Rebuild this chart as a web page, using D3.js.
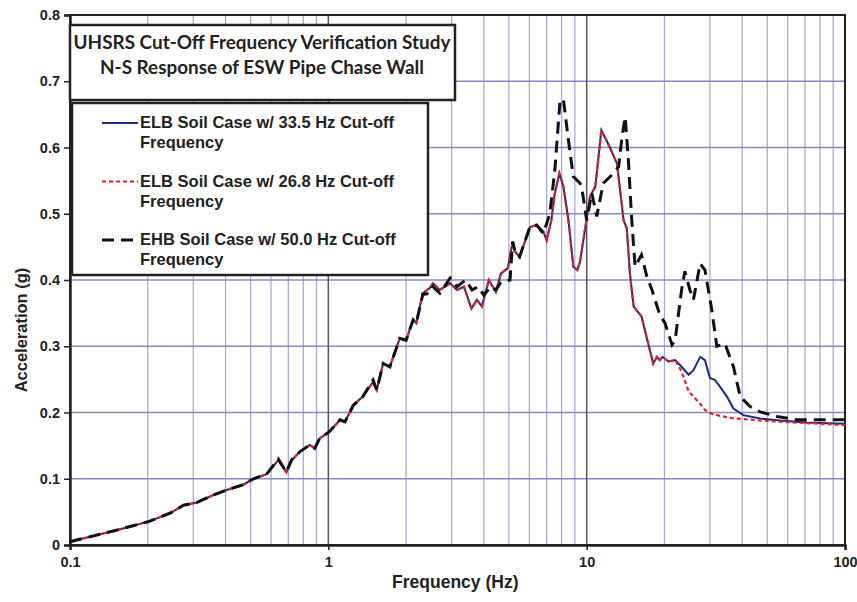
<!DOCTYPE html>
<html>
<head>
<meta charset="utf-8">
<script src="https://cdn.jsdelivr.net/npm/d3@7"></script>
<style>
  body { margin: 0; background: #fff; }
  text { font-family: "Liberation Sans", Arial, sans-serif; }
</style>
</head>
<body>
<div id="chart"></div>
<script>
// ELB soil cases (33.5 Hz and 26.8 Hz cut-off) share one frequency grid
var elbFreq = [0.1, 0.12, 0.15, 0.2, 0.244, 0.275, 0.309, 0.359, 0.404, 0.469, 0.513, 0.577,
  0.64, 0.688, 0.72, 0.777, 0.847, 0.886, 0.926, 1.01, 1.11, 1.16, 1.25, 1.36, 1.49, 1.54,
  1.63, 1.73, 1.89, 2.0, 2.13, 2.19, 2.32, 2.47, 2.54, 2.7, 2.96, 3.15, 3.35, 3.58, 3.76,
  3.93, 4.18, 4.45, 4.66, 4.95, 5.17, 5.28, 5.5, 6.03, 6.4, 6.8, 7.0, 7.3, 7.53, 7.84, 8.13,
  8.5, 8.88, 9.2, 9.43, 9.71, 10.3, 10.8, 11.4, 12.1, 13.1, 13.9, 14.3, 14.7, 15.2, 16.3,
  17.3, 18.1, 18.7, 19.2, 19.7, 20.7, 22.0, 23.3, 24.8, 25.9, 27.5, 28.7, 30.0, 31.4, 32.8,
  34.9, 37.0, 40.4, 46.9, 56, 71, 100];

var elb335 = [0.005, 0.0126, 0.022, 0.035, 0.048, 0.06, 0.064, 0.0755, 0.083, 0.091, 0.1, 0.107,
  0.128, 0.11, 0.128, 0.141, 0.151, 0.146, 0.161, 0.171, 0.189, 0.186, 0.211, 0.224, 0.246, 0.234,
  0.274, 0.269, 0.312, 0.309, 0.34, 0.335, 0.38, 0.388, 0.395, 0.385, 0.395, 0.385, 0.39, 0.357, 0.37,
  0.36, 0.4, 0.382, 0.41, 0.418, 0.458, 0.443, 0.435, 0.48, 0.483, 0.473, 0.46, 0.49, 0.531, 0.561, 0.541,
  0.49, 0.42, 0.415, 0.428, 0.46, 0.526, 0.541, 0.626, 0.606, 0.576, 0.49, 0.478, 0.41, 0.36, 0.345,
  0.304, 0.274, 0.284, 0.279, 0.284, 0.277, 0.279, 0.269, 0.257, 0.264, 0.284, 0.279, 0.252, 0.249, 0.239,
  0.224, 0.206, 0.196, 0.191, 0.188, 0.185, 0.183];

var elb268 = [0.005, 0.0126, 0.022, 0.035, 0.048, 0.06, 0.064, 0.0755, 0.083, 0.091, 0.1, 0.107,
  0.128, 0.11, 0.128, 0.141, 0.151, 0.146, 0.161, 0.171, 0.189, 0.186, 0.211, 0.224, 0.246, 0.234,
  0.274, 0.269, 0.312, 0.309, 0.34, 0.335, 0.38, 0.388, 0.395, 0.385, 0.395, 0.385, 0.39, 0.357, 0.37,
  0.36, 0.4, 0.382, 0.41, 0.418, 0.458, 0.443, 0.435, 0.48, 0.483, 0.473, 0.46, 0.49, 0.531, 0.561, 0.541,
  0.49, 0.42, 0.415, 0.428, 0.46, 0.526, 0.541, 0.626, 0.606, 0.576, 0.49, 0.478, 0.41, 0.36, 0.345,
  0.304, 0.274, 0.284, 0.279, 0.284, 0.277, 0.279, 0.262, 0.232, 0.224, 0.213, 0.204, 0.199, 0.197, 0.195,
  0.193, 0.191, 0.19, 0.188, 0.186, 0.184, 0.181];

// EHB soil case (50.0 Hz cut-off)
var ehbFreq = [0.1, 0.12, 0.15, 0.2, 0.244, 0.275, 0.309, 0.359, 0.404, 0.469, 0.513, 0.577,
  0.64, 0.688, 0.72, 0.777, 0.847, 0.886, 0.926, 1.01, 1.11, 1.16, 1.25, 1.36, 1.49, 1.54,
  1.63, 1.73, 1.89, 2.0, 2.13, 2.19, 2.32, 2.47, 2.54, 2.7, 2.87, 2.96, 3.15, 3.4, 3.6, 3.8,
  4.0, 4.25, 4.45, 4.66, 5.05, 5.17, 5.28, 5.5, 6.03, 6.4, 6.8, 7.2, 7.53, 7.89, 8.13, 8.5,
  8.88, 9.43, 9.6, 10.0, 10.47, 10.94, 11.6, 12.7, 13.3, 13.7, 14.1, 14.5, 14.95, 15.4, 16.3,
  17.1, 17.9, 19.2, 20.1, 21.4, 22.0, 23.3, 24.0, 25.1, 25.9, 27.5, 28.7, 30.5, 31.9, 34.3,
  37.0, 39.3, 42.9, 46.9, 54.5, 65.1, 100];

var ehb500 = [0.005, 0.0126, 0.022, 0.035, 0.048, 0.06, 0.064, 0.0755, 0.083, 0.091, 0.1, 0.107,
  0.13, 0.11, 0.128, 0.141, 0.151, 0.146, 0.161, 0.171, 0.189, 0.186, 0.211, 0.224, 0.249, 0.234,
  0.274, 0.269, 0.312, 0.309, 0.34, 0.335, 0.378, 0.38, 0.39, 0.38, 0.395, 0.403, 0.39, 0.4, 0.385, 0.39,
  0.377, 0.39, 0.385, 0.397, 0.4, 0.458, 0.443, 0.435, 0.48, 0.483, 0.47, 0.5, 0.566, 0.672, 0.672, 0.611,
  0.556, 0.546, 0.536, 0.49, 0.531, 0.496, 0.546, 0.561, 0.571, 0.616, 0.646, 0.581, 0.49, 0.42, 0.438,
  0.405, 0.385, 0.347, 0.335, 0.302, 0.309, 0.385, 0.413, 0.385, 0.37, 0.425, 0.415, 0.355, 0.3, 0.304,
  0.269, 0.224, 0.209, 0.201, 0.194, 0.189, 0.189];

var yTicks = [0, 0.1, 0.2, 0.3, 0.4, 0.5, 0.6, 0.7, 0.8];
var xTicks = [0.1, 1, 10, 100];
var titleLines = ["UHSRS Cut-Off Frequency Verification Study", "N-S Response of ESW Pipe Chase Wall"];
var legendNames = [["ELB Soil Case w/ 33.5 Hz Cut-off", "Frequency"],
  ["ELB Soil Case w/ 26.8 Hz Cut-off", "Frequency"],
  ["EHB Soil Case w/ 50.0 Hz Cut-off", "Frequency"]];

var margin = {top: 15, right: 12, bottom: 57, left: 70};
var width = 857 - margin.left - margin.right,
    height = 602 - margin.top - margin.bottom;

var x = d3.scaleLog().domain([0.1, 100]).range([0, width]);
var y = d3.scaleLinear().domain([0, 0.8]).range([height, 0]);

var svg = d3.select("#chart").append("svg")
    .attr("width", 857)
    .attr("height", 602)
  .append("g")
    .attr("transform", "translate(" + margin.left + "," + margin.top + ")");

// grid: minor log lines, then horizontals, then decades
var minor = x.ticks().filter(function(d) { return xTicks.indexOf(d) < 0; });
svg.append("g").selectAll("line").data(minor).enter().append("line")
    .attr("x1", x).attr("x2", x).attr("y1", 0).attr("y2", height)
    .attr("stroke", "#a5a5cf").attr("stroke-width", 1.2);

svg.append("g").selectAll("line").data(yTicks.slice(1, -1)).enter().append("line")
    .attr("x1", 0).attr("x2", width)
    .attr("y1", y).attr("y2", y)
    .attr("stroke", "#8a8ac0").attr("stroke-width", 1.5);

svg.append("g").selectAll("line").data([1, 10]).enter().append("line")
    .attr("x1", x).attr("x2", x).attr("y1", 0).attr("y2", height)
    .attr("stroke", "#55556a").attr("stroke-width", 1.5);

// frame
svg.append("rect")
    .attr("width", width).attr("height", height)
    .attr("fill", "none").attr("stroke", "#222").attr("stroke-width", 2);

var yAxis = d3.axisLeft(y).tickValues(yTicks).tickSize(6).tickFormat(d3.format("")),
    xAxis = d3.axisBottom(x).tickValues(xTicks).tickSize(5).tickFormat(function(d) { return d; });

svg.append("g").attr("class", "y axis").call(yAxis);
svg.append("g").attr("class", "x axis")
    .attr("transform", "translate(0," + height + ")")
    .call(xAxis);

svg.selectAll(".axis .domain").attr("stroke", "#222").attr("stroke-width", 2.5);
svg.selectAll(".axis line").attr("stroke", "#222").attr("stroke-width", 1.5);
svg.selectAll(".axis text")
    .attr("fill", "#222")
    .style("font-size", "14.5px")
    .style("font-family", "Liberation Sans, Arial, sans-serif")
    .style("font-weight", "bold");
svg.selectAll(".y.axis text").attr("x", -10);
svg.selectAll(".x.axis text").attr("y", 12);

svg.append("text")
    .attr("transform", "translate(-43,315) rotate(-90)")
    .attr("text-anchor", "middle")
    .style("font-size", "16.5px").style("font-weight", "bold").attr("fill", "#222")
    .text("Acceleration (g)");

svg.append("text")
    .attr("x", x(3.1)).attr("y", height + 43)
    .attr("text-anchor", "middle")
    .style("font-size", "17.5px").style("font-weight", "bold").attr("fill", "#222")
    .text("Frequency (Hz)");

// curves
var series = [
  {freq: elbFreq, vals: elb335, color: "#1c2a86", width: 2, dash: null},
  {freq: elbFreq, vals: elb268, color: "#e3202b", width: 2.2, dash: "4,3"},
  {freq: ehbFreq, vals: ehb500, color: "#111", width: 3, dash: "12,7"}
];

var line = d3.line()
    .x(function(d) { return x(d[0]); })
    .y(function(d) { return y(d[1]); });

series.forEach(function(s) {
  svg.append("path")
      .datum(d3.zip(s.freq, s.vals))
      .attr("d", line)
      .attr("fill", "none")
      .attr("stroke", s.color)
      .attr("stroke-width", s.width)
      .attr("stroke-dasharray", s.dash);
});

// title box
var tbox = svg.append("g").attr("transform", "translate(0,10)");
tbox.append("rect")
    .attr("width", 385).attr("height", 75)
    .attr("fill", "#fff").attr("stroke", "#222").attr("stroke-width", 2.5);
tbox.selectAll("text").data(titleLines).enter().append("text")
    .attr("x", 192).attr("y", function(d, i) { return 24 + i * 25; })
    .attr("text-anchor", "middle")
    .style("font-family", "Lato, sans-serif")
    .style("font-size", "18.9px").style("font-weight", "bold").attr("fill", "#222")
    .text(function(d) { return d; });

// legend
var leg = svg.append("g").attr("transform", "translate(2,88)");
leg.append("rect")
    .attr("width", 356).attr("height", 172)
    .attr("fill", "#fff").attr("stroke", "#222").attr("stroke-width", 2.5);

var items = leg.selectAll("g.item").data(series).enter().append("g")
    .attr("class", "item")
    .attr("transform", function(d, i) { return "translate(0," + (20 + i * 58.5) + ")"; });

items.append("line")
    .attr("x1", 30).attr("x2", 66)
    .attr("stroke", function(d) { return d.color; })
    .attr("stroke-width", function(d) { return d.width; })
    .attr("stroke-dasharray", function(d) { return d.dash; });

items.append("text")
    .attr("x", 68).attr("y", 5)
    .style("font-size", "16.5px").style("font-weight", "bold").attr("fill", "#222")
    .text(function(d, i) { return legendNames[i][0]; });
items.append("text")
    .attr("x", 68).attr("y", 25)
    .style("font-size", "16.5px").style("font-weight", "bold").attr("fill", "#222")
    .text(function(d, i) { return legendNames[i][1]; });
</script>
</body>
</html>
